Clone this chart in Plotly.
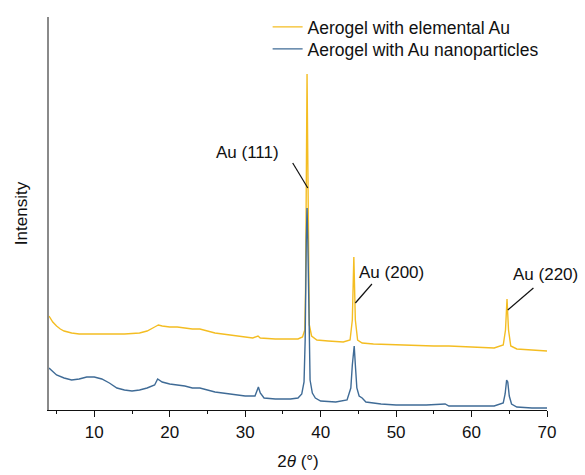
import plotly.graph_objects as go

# 2-theta positions (degrees) and intensities (a.u.)
x_elem = [4, 4.5, 5, 5.5, 6, 7, 8, 10, 12, 14, 16, 17, 18, 18.5, 19, 20, 21, 22, 23, 24, 25, 26, 27, 28, 29, 30, 31,
          31.7, 32, 34, 36, 37, 37.6, 37.9, 38.0, 38.1, 38.2, 38.3, 38.4, 38.5, 38.8, 39.5, 41, 43, 43.9, 44.2, 44.4,
          44.6, 44.9, 45.5, 47, 50, 55, 57, 60, 63, 64.2, 64.5, 64.7, 64.9, 65.2, 66, 68, 70]
y_elem = [94, 88, 84, 81, 79, 77, 76, 76, 76, 76, 77, 79, 83, 85, 84, 83, 83, 82, 81, 81, 79, 77, 76, 75, 74, 73, 72,
          74, 72, 71, 71, 71, 73, 80, 120, 250, 336, 250, 120, 85, 74, 70, 69, 68, 70, 90, 153,
          90, 70, 67, 66, 65, 64, 64, 63, 62, 65, 80, 111, 80, 64, 61, 60, 59]

x_nano = [4, 4.5, 5, 6, 7, 8, 9, 10, 11, 12, 13, 14, 15, 16, 17, 18, 18.4, 19, 20, 22, 23, 24, 25, 26, 27, 28, 29, 30,
          31.3, 31.6, 31.75, 32, 32.5, 34, 36, 37, 37.5, 37.8, 37.95, 38.1, 38.2, 38.3, 38.45, 38.6, 38.9, 39.3, 40,
          42, 43.5, 44.0, 44.2, 44.35, 44.45, 44.6, 44.8, 45.1, 45.5, 46, 48, 50, 54, 56.5, 57, 60, 63, 64.2, 64.45,
          64.65, 64.8, 65.0, 65.3, 66, 68, 70]
y_nano = [42, 38, 35, 32, 30, 31, 33, 33, 31, 27, 22, 20, 19, 20, 22, 25, 31, 28, 26, 24, 22, 22, 20, 18, 17, 16, 15, 14,
          14, 20, 23, 17, 12, 11, 11, 12, 16, 28, 70, 170, 202, 170, 70, 30, 17, 12, 9,
          8, 10, 22, 45, 64, 64, 45, 22, 14, 12, 8, 6, 5, 5, 6, 4, 4, 4, 7, 16,
          30, 28, 14, 6, 3, 2, 2]

series_names = ["Aerogel with elemental Au", "Aerogel with Au nanoparticles"]
series_colors = ["#f4bd22", "#3f6b96"]

peak_labels = ["Au (111)", "Au (200)", "Au (220)"]
label_x = [30.3, 49.4, 69.8]
label_y = [258, 138, 136]
leader_x0 = [36.3, 46.8, 68.2]
leader_y0 = [247, 126, 122]
leader_x1 = [38.3, 44.6, 64.8]
leader_y1 = [222, 107, 100]

x_ticks = [10, 20, 30, 40, 50, 60, 70]
x_minor = [5, 15, 25, 35, 45, 55, 65]

fig = go.Figure()
fig.add_trace(go.Scatter(x=x_elem, y=y_elem, mode="lines", name=series_names[0], legend="legend",
                         line=dict(color=series_colors[0], width=1.4)))
fig.add_trace(go.Scatter(x=x_nano, y=y_nano, mode="lines", name=series_names[1], legend="legend2",
                         line=dict(color=series_colors[1], width=1.4)))

for t, tx, ty, a0, b0, a1, b1 in zip(peak_labels, label_x, label_y, leader_x0, leader_y0, leader_x1, leader_y1):
    fig.add_annotation(x=tx, y=ty, text=t, showarrow=False, xref="x", yref="y",
                       font=dict(size=17, color="#111111"))
    fig.add_shape(type="line", x0=a0, y0=b0, x1=a1, y1=b1, xref="x", yref="y",
                  line=dict(color="#111111", width=1.2))

legend_style = dict(xanchor="left", yanchor="middle", bgcolor="rgba(0,0,0,0)",
                    font=dict(size=17.5), itemwidth=30)

fig.update_layout(
    width=585, height=475,
    margin=dict(l=49, r=38, t=17, b=65, autoexpand=False),
    paper_bgcolor="white", plot_bgcolor="white",
    font=dict(family="Liberation Sans, Arial, sans-serif", size=17, color="#111111"),
    showlegend=True,
    legend=dict(x=0.439, y=0.9746, **legend_style),
    legend2=dict(x=0.439, y=0.9186, **legend_style),
)
fig.update_xaxes(range=[4, 70], tickvals=x_ticks, ticks="outside", ticklen=6, tickwidth=1.2,
                 tickcolor="#111111", showline=True, linecolor="#111111", linewidth=1.2,
                 showgrid=False, zeroline=False, tickfont=dict(size=17), automargin=False,
                 minor=dict(tickvals=x_minor, ticks="outside", ticklen=3,
                            tickcolor="#111111", tickwidth=1.2),
                 title=dict(text="2<i>θ</i> (°)", standoff=14, font=dict(size=17)))
fig.update_yaxes(range=[0, 393], showticklabels=False, ticks="", showline=True, linecolor="#8a8a8a",
                 linewidth=1.5, showgrid=False, zeroline=False, automargin=False,
                 title=dict(text="Intensity", standoff=15, font=dict(size=17)))

fig.write_html("out.html")
